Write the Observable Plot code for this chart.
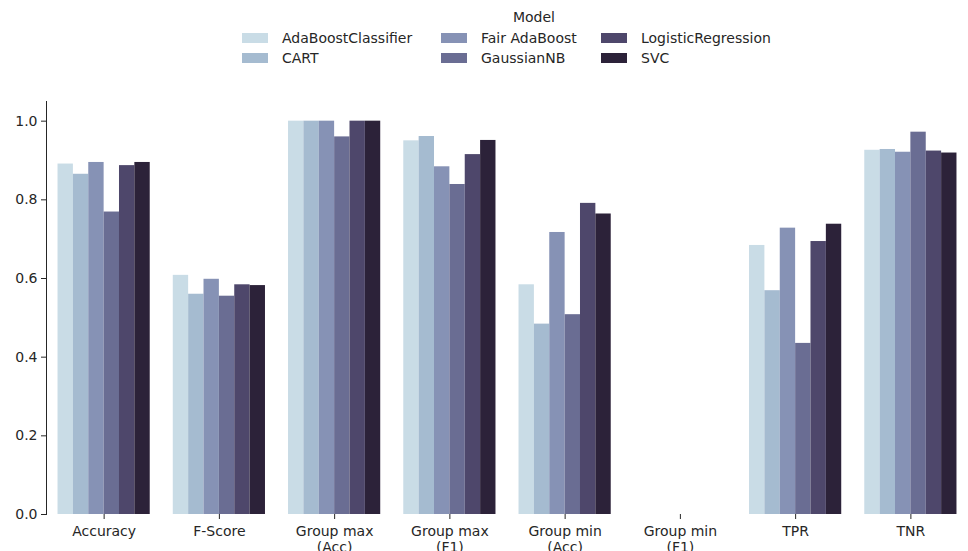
<!DOCTYPE html>
<html>
<head>
<meta charset="utf-8">
<script src="https://cdn.jsdelivr.net/npm/d3@7"></script>
<script src="https://cdn.jsdelivr.net/npm/@observablehq/plot@0.6"></script>
<style>
  body { margin: 0; background: #fff; font-family: "DejaVu Sans", sans-serif; color: #262626; }
  #wrap { width: 968px; position: relative; }
  #legend { position: relative; height: 80px; width: 968px; font-size: 14px; }
  #legend .title { position: absolute; top: 8px; left: 0; width: 1068px; text-align: center; line-height: 18px; }
  #legend .item { position: absolute; display: flex; align-items: center; height: 18px; white-space: nowrap; }
  #legend .sw { width: 26px; height: 10px; margin-right: 14px; }
</style>
</head>
<body>
<div id="wrap">
  <div id="legend"></div>
  <div id="chart"></div>
</div>
<script>
// Metrics along the x axis (line breaks wrap the long labels)
const metrics = ["Accuracy", "F-Score", "Group max\n(Acc)", "Group max\n(F1)",
                 "Group min\n(Acc)", "Group min\n(F1)", "TPR", "TNR"];

// Models and their palette
const models = ["AdaBoostClassifier", "CART", "Fair AdaBoost", "GaussianNB", "LogisticRegression", "SVC"];
const palette = ["#c9dce6", "#a5bbd0", "#8692b5", "#6a6d93", "#4e476b", "#2c2239"];

// Scores per model, one value per metric (same order as `metrics`)
const adaBoost   = [0.891, 0.608, 1.000, 0.950, 0.584, 0, 0.684, 0.926];
const cart       = [0.865, 0.560, 1.000, 0.961, 0.484, 0, 0.569, 0.928];
const fairAda    = [0.895, 0.598, 1.000, 0.884, 0.717, 0, 0.728, 0.921];
const gaussianNB = [0.769, 0.555, 0.960, 0.839, 0.508, 0, 0.435, 0.972];
const logReg     = [0.887, 0.584, 1.000, 0.915, 0.791, 0, 0.694, 0.924];
const svc        = [0.895, 0.582, 1.000, 0.951, 0.764, 0, 0.738, 0.919];

const yTicks = [0, 0.2, 0.4, 0.6, 0.8, 1.0];

const series = [adaBoost, cart, fairAda, gaussianNB, logReg, svc];
const rows = [];
models.forEach((model, i) => {
  metrics.forEach((metric, j) => rows.push({model, metric, value: series[i][j]}));
});

// Legend: title centred, entries laid out column by column (two rows)
const legend = document.getElementById("legend");
const legendTitle = document.createElement("div");
legendTitle.className = "title";
legendTitle.textContent = "Model";
legend.appendChild(legendTitle);
const colX = [242, 441, 601];
const rowY = [29, 49];
models.forEach((m, i) => {
  const item = document.createElement("div");
  item.className = "item";
  item.style.left = colX[Math.floor(i / 2)] + "px";
  item.style.top = rowY[i % 2] + "px";
  const sw = document.createElement("span");
  sw.className = "sw";
  sw.style.background = palette[i];
  const label = document.createElement("span");
  label.textContent = m;
  item.appendChild(sw);
  item.appendChild(label);
  legend.appendChild(item);
});

const chart = Plot.plot({
  width: 968,
  height: 479,
  marginLeft: 46,
  marginRight: 0,
  marginTop: 21,
  marginBottom: 45,
  style: {fontFamily: "DejaVu Sans, sans-serif", fontSize: "14px", color: "#262626", background: "#fff"},
  // each metric gets a full-width facet; the bar group fills its middle 80%
  fx: {domain: metrics, padding: 0, round: false, label: null,
       axis: "bottom", line: true, tickSize: 5, tickFormat: () => ""},
  x: {domain: models, paddingInner: 0, paddingOuter: 0.75, round: false, axis: null},
  y: {domain: [0, 1.05], label: null, axis: "left", line: true, ticks: yTicks,
      tickFormat: d3.format(".1f"), tickSize: 5, tickPadding: 4},
  color: {domain: models, range: palette},
  marks: [
    Plot.barY(rows, {fx: "metric", x: "model", y: "value", fill: "model", inset: 0}),
    // metric names under each group, wrapped onto two lines where needed
    Plot.text(metrics, {fx: d => d, text: d => d, frameAnchor: "bottom", lineAnchor: "top",
                        dy: 10, lineHeight: 1.15, fill: "#262626"})
  ]
});
document.getElementById("chart").appendChild(chart);
</script>
</body>
</html>
